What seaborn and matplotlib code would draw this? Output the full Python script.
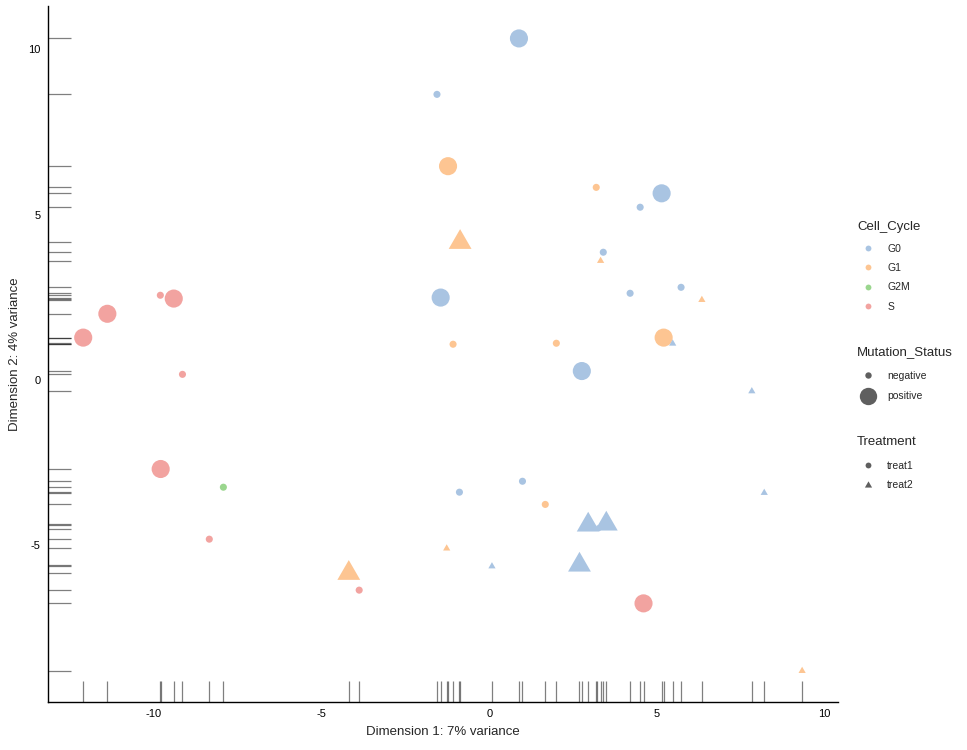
import numpy as np
import pandas as pd
import matplotlib
matplotlib.use("Agg")
import matplotlib.pyplot as plt
from matplotlib.lines import Line2D
import seaborn as sns

# ---- data ----
dim1 = [0.885, -1.56, -1.23, 3.19, 5.14, 4.50, -0.87, 3.40, 3.32, 4.20,
        5.72, 6.34, -1.45, -1.08, 2.00, 5.20, 5.47, 2.76, 7.83, 8.20,
        0.99, 1.67, 2.95, 3.49, 3.22, 2.69, 0.08, 4.60, 9.33, -0.89,
        -1.27, -4.19, -3.88, -8.35, -7.93, -9.80, -9.15, -9.81, -9.41, -11.39,
        -12.11]
dim2 = [10.32, 8.63, 6.46, 5.82, 5.64, 5.22, 4.16, 3.86, 3.60, 2.62,
        2.80, 2.42, 2.49, 1.08, 1.11, 1.28, 1.10, 0.27, -0.34, -3.41,
        -3.06, -3.76, -4.38, -4.35, -4.50, -5.59, -5.63, -6.75, -8.79, -3.39,
        -5.09, -5.84, -6.35, -4.81, -3.24, -2.69, 0.17, 2.56, 2.46, 2.00,
        1.28]
cell_cycle = ["G0", "G0", "G1", "G1", "G0", "G0", "G1", "G0", "G1", "G0",
              "G0", "G1", "G0", "G1", "G1", "G1", "G0", "G0", "G0", "G0",
              "G0", "G1", "G0", "G0", "G0", "G0", "G0", "S", "G1", "G0",
              "G1", "G1", "S", "S", "G2M", "S", "S", "S", "S", "S",
              "S"]
mutation = ["positive", "negative", "positive", "negative", "positive", "negative", "positive", "negative", "negative", "negative",
            "negative", "negative", "positive", "negative", "negative", "positive", "negative", "positive", "negative", "negative",
            "negative", "negative", "positive", "positive", "negative", "positive", "negative", "positive", "negative", "negative",
            "negative", "positive", "negative", "negative", "negative", "positive", "negative", "negative", "positive", "positive",
            "positive"]
treatment = ["treat1", "treat1", "treat1", "treat1", "treat1", "treat1", "treat2", "treat1", "treat2", "treat1",
             "treat1", "treat2", "treat1", "treat1", "treat1", "treat1", "treat2", "treat1", "treat2", "treat2",
             "treat1", "treat1", "treat2", "treat2", "treat2", "treat2", "treat2", "treat1", "treat2", "treat1",
             "treat2", "treat2", "treat1", "treat1", "treat1", "treat1", "treat1", "treat1", "treat1", "treat1",
             "treat1"]

cycle_levels = ["G0", "G1", "G2M", "S"]
mut_levels = ["negative", "positive"]
treat_levels = ["treat1", "treat2"]
x_label = "Dimension 1: 7% variance"
y_label = "Dimension 2: 4% variance"
x_ticks = [-10, -5, 0, 5, 10]
y_ticks = [-5, 0, 5, 10]

df = pd.DataFrame({"Dim1": dim1, "Dim2": dim2, "Cell_Cycle": cell_cycle,
                   "Mutation_Status": mutation, "Treatment": treatment})

# ---- style ----
sns.set_style("white")
plt.rcParams["font.family"] = ["Liberation Sans", "DejaVu Sans"]

palette = {"G0": "#A9C4E2", "G1": "#FDC592", "G2M": "#9AD68E", "S": "#F2A3A0"}
# triangle with centroid at the data point (like R pch 17)
tri = [(0.0, 1.0), (-0.866, -0.5), (0.866, -0.5), (0.0, 1.0)]

fig = plt.figure(figsize=(9.67, 7.5), dpi=100)
ax = fig.add_axes([0.0493, 0.064, 0.8173, 0.928])

circ = df[df["Treatment"] == "treat1"]
trig = df[df["Treatment"] == "treat2"]
sns.scatterplot(data=circ, x="Dim1", y="Dim2", hue="Cell_Cycle", hue_order=cycle_levels,
                palette=palette, size="Mutation_Status", size_order=mut_levels,
                sizes={"negative": 26, "positive": 170}, marker="o",
                linewidth=0, alpha=1, legend=False, ax=ax, zorder=3)
sns.scatterplot(data=trig, x="Dim1", y="Dim2", hue="Cell_Cycle", hue_order=cycle_levels,
                palette=palette, size="Mutation_Status", size_order=mut_levels,
                sizes={"negative": 36, "positive": 360}, marker=tri,
                linewidth=0, alpha=1, legend=False, ax=ax, zorder=3)

sns.rugplot(data=df, x="Dim1", y="Dim2", height=0.03, color="black", alpha=0.5,
            linewidth=0.9, ax=ax)

ax.set_xlim(-13.17, 10.4)
ax.set_ylim(-9.73, 11.3)
ax.set_xticks(x_ticks)
ax.set_yticks(y_ticks)
ax.set_xticklabels([str(t) for t in x_ticks])
ax.set_yticklabels([str(t) for t in y_ticks])
ax.tick_params(axis="both", direction="out", length=3, width=0.8, colors="black",
               labelsize=8, pad=2)
for s in ["top", "right"]:
    ax.spines[s].set_visible(False)
for s in ["left", "bottom"]:
    ax.spines[s].set_color("black")
    ax.spines[s].set_linewidth(1.0)
ax.set_xlabel(x_label, fontsize=9.5, labelpad=5)
ax.set_ylabel(y_label, fontsize=9.5, labelpad=5)

# ---- legends (ggplot style) ----
grey = "#5f5f5f"
h1 = [Line2D([], [], linestyle="none", marker="o", markersize=4.2, markeredgewidth=0,
             color=palette[c]) for c in cycle_levels]
h2 = [Line2D([], [], linestyle="none", marker="o", markersize=s, markeredgewidth=0,
             color=grey) for s in (4.6, 12.5)]
h3 = [Line2D([], [], linestyle="none", marker="o", markersize=4.2, markeredgewidth=0, color=grey),
      Line2D([], [], linestyle="none", marker=tri, markersize=6.0, markeredgewidth=0, color=grey)]

common = dict(frameon=False, fontsize=7.5, title_fontsize=9.5, alignment="left",
              handletextpad=0.9, borderpad=0, handlelength=2.0)
leg1 = fig.legend(h1, cycle_levels, title="Cell_Cycle", loc="upper left",
                  bbox_to_anchor=(0.881, 0.712), labelspacing=0.9, **common)
leg1._legend_box.sep = 7.5
leg2 = fig.legend(h2, mut_levels, title="Mutation_Status", loc="upper left",
                  bbox_to_anchor=(0.881, 0.546), labelspacing=1.0, **common)
leg2._legend_box.sep = 9.5
leg3 = fig.legend(h3, treat_levels, title="Treatment", loc="upper left",
                  bbox_to_anchor=(0.881, 0.426), labelspacing=0.9, **common)
leg3._legend_box.sep = 9.5

fig.savefig("out.png", dpi=100)
